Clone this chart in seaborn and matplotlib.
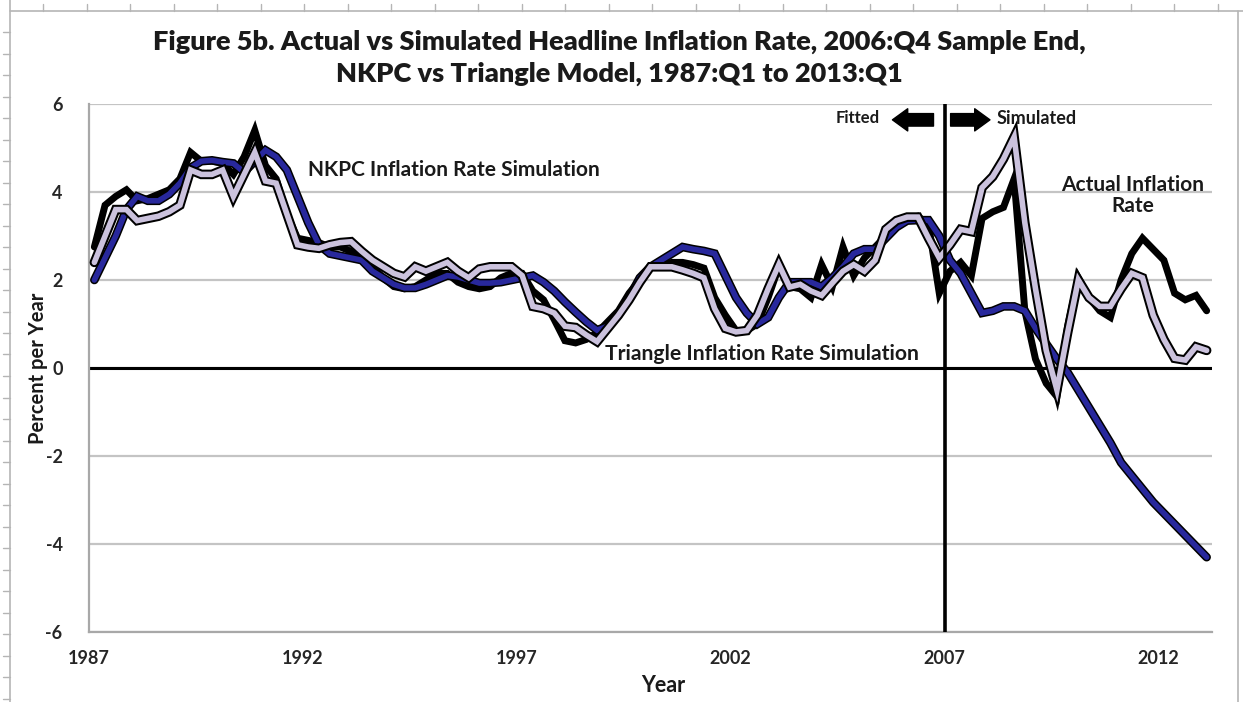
import matplotlib
matplotlib.use("Agg")
import matplotlib.pyplot as plt
import matplotlib.patheffects as pe
from matplotlib.lines import Line2D
import numpy as np
import pandas as pd
import seaborn as sns

# Quarterly headline inflation, 1987:Q1 .. 2013:Q1 (percent per year)
quarters = pd.period_range("1987Q1", "2013Q1", freq="Q")

actual = [
    2.75, 3.7, 3.9, 4.05, 3.8, 3.85, 3.95, 4.05, 4.3, 4.9,
    4.7, 4.7, 4.65, 4.4, 4.8, 5.4, 4.6, 4.3, 3.5, 2.95,
    2.9, 2.85, 2.75, 2.75, 2.65, 2.5, 2.3, 2.05, 1.85, 1.8,
    1.85, 2.0, 2.15, 2.15, 1.95, 1.85, 1.8, 1.85, 2.05, 2.15,
    2.15, 1.75, 1.55, 1.1, 0.62, 0.57, 0.65, 0.8, 1.05, 1.3,
    1.7, 2.0, 2.3, 2.35, 2.4, 2.4, 2.35, 2.27, 1.6, 1.2,
    0.85, 0.85, 1.0, 1.6, 2.3, 1.85, 1.8, 1.6, 2.35, 1.85,
    2.75, 2.1, 2.5, 2.75, 3.0, 3.25, 3.4, 3.45, 3.25, 1.7,
    2.2, 2.4, 2.1, 3.4, 3.55, 3.65, 4.3, 1.3, 0.2, -0.35,
    -0.65, 0.95, 2.05, 1.6, 1.3, 1.15, 2.0, 2.6, 2.95, 2.7,
    2.45, 1.7, 1.55, 1.65, 1.3,
]

nkpc = [
    2.0, 2.5, 3.0, 3.6, 3.9, 3.8, 3.8, 3.95, 4.2, 4.55,
    4.7, 4.72, 4.68, 4.65, 4.45, 4.7, 4.95, 4.8, 4.5, 3.9,
    3.3, 2.8, 2.6, 2.55, 2.5, 2.45, 2.2, 2.05, 1.9, 1.82,
    1.82, 1.9, 2.0, 2.1, 2.07, 2.0, 1.93, 1.93, 1.95, 2.0,
    2.05, 2.1, 1.95, 1.75, 1.5, 1.27, 1.05, 0.86, 0.95, 1.2,
    1.6, 2.05, 2.3, 2.45, 2.6, 2.75, 2.7, 2.66, 2.6, 2.1,
    1.6, 1.25, 1.0, 1.15, 1.6, 1.95, 1.95, 1.95, 1.85, 2.05,
    2.3, 2.6, 2.7, 2.7, 2.95, 3.2, 3.35, 3.36, 3.36, 3.0,
    2.45, 2.15, 1.7, 1.25, 1.3, 1.4, 1.4, 1.3, 0.9, 0.55,
    0.2, -0.1, -0.5, -0.9, -1.3, -1.7, -2.15, -2.45, -2.75, -3.05,
    -3.3, -3.55, -3.8, -4.05, -4.3,
]

triangle = [
    2.4, 3.0, 3.6, 3.6, 3.35, 3.4, 3.45, 3.55, 3.7, 4.5,
    4.4, 4.4, 4.5, 3.9, 4.4, 4.9, 4.25, 4.2, 3.5, 2.8,
    2.75, 2.72, 2.8, 2.85, 2.87, 2.65, 2.45, 2.3, 2.15, 2.07,
    2.3, 2.2, 2.3, 2.4, 2.2, 2.05, 2.25, 2.3, 2.3, 2.3,
    2.1, 1.4, 1.35, 1.25, 0.95, 0.92, 0.75, 0.6, 0.9, 1.2,
    1.55, 1.95, 2.3, 2.3, 2.3, 2.23, 2.15, 2.05, 1.35, 0.9,
    0.82, 0.85, 1.2, 1.8, 2.35, 1.84, 1.9, 1.75, 1.65, 1.93,
    2.2, 2.35, 2.2, 2.45, 3.15, 3.35, 3.43, 3.43, 2.95, 2.5,
    2.8, 3.15, 3.1, 4.1, 4.35, 4.75, 5.25, 3.3, 1.8, 0.4,
    -0.5, 0.8, 2.0, 1.6, 1.4, 1.4, 1.8, 2.15, 2.05, 1.2,
    0.65, 0.22, 0.18, 0.48, 0.4,
]

x_ticks = [1987, 1992, 1997, 2002, 2007, 2012]
y_ticks = [-6, -4, -2, 0, 2, 4, 6]
sample_end = 2007

# each quarter plotted at its midpoint on a continuous year axis
t = np.array([p.year + (p.quarter - 1) / 4 + 0.125 for p in quarters])

df = pd.concat([
    pd.DataFrame({"t": t, "value": actual, "series": "Actual"}),
    pd.DataFrame({"t": t, "value": nkpc, "series": "NKPC"}),
    pd.DataFrame({"t": t, "value": triangle, "series": "Triangle"}),
])

sns.set_style("white")
plt.rcParams["font.family"] = ["Lato", "DejaVu Sans"]
plt.rcParams["font.weight"] = "bold"

W, H = 1243, 702
fig = plt.figure(figsize=(W / 100, H / 100), dpi=100)
ax = fig.add_axes([89 / W, 1 - 632 / H, (1212 - 89) / W, (632 - 104) / H])


def fxy(x, y):
    return x / W, 1 - y / H


palette = {"Actual": "black", "NKPC": "#28289c", "Triangle": "#cbc2dd"}
sns.lineplot(data=df, x="t", y="value", hue="series",
             hue_order=["Actual", "NKPC", "Triangle"], palette=palette,
             estimator=None, sort=False, legend=False, ax=ax, zorder=3)

widths = {"Actual": 5.0, "NKPC": 4.0, "Triangle": 4.0}
outlines = {"NKPC": 6.2, "Triangle": 6.9}
for line, name in zip(ax.lines, ["Actual", "NKPC", "Triangle"]):
    line.set_linewidth(widths[name])
    line.set_solid_joinstyle("miter")
    line.set_solid_capstyle("round")
    if name in outlines:
        line.set_path_effects([pe.Stroke(linewidth=outlines[name], foreground="black"),
                               pe.Normal()])

ax.set_xlim(1987, 2013.25)
ax.set_ylim(-6, 6)
ax.set_xticks(x_ticks)
ax.set_yticks(y_ticks)
ax.set_xticklabels([str(v) for v in x_ticks])
ax.set_yticklabels([str(v) for v in y_ticks])
ax.set_xlabel("")
ax.set_ylabel("")

ax.yaxis.grid(True, color="#c4c4c4", linewidth=1.6)
ax.xaxis.grid(False)
ax.set_axisbelow(True)
for side in ["top", "right"]:
    ax.spines[side].set_visible(False)
for side in ["left", "bottom"]:
    ax.spines[side].set_color("#a8a8a8")
    ax.spines[side].set_linewidth(1.6)

ax.tick_params(axis="x", direction="out", length=5, width=1.2, color="#a8a8a8",
               labelsize=13, pad=8)
ax.tick_params(axis="y", direction="out", length=5, width=1.2, color="#a8a8a8",
               labelsize=13, pad=14)
for lab in ax.get_xticklabels() + ax.get_yticklabels():
    lab.set_fontweight("bold")

ax.axhline(0, color="black", linewidth=2.2, zorder=2)
ax.axvline(sample_end, color="black", linewidth=2.6, zorder=5)

# series labels
ax.text(1992.12, 4.5, "NKPC Inflation Rate Simulation", fontsize=15,
        fontweight="bold", ha="left", va="center", color="#1a1a1a")
ax.text(1999.06, 0.32, "Triangle Inflation Rate Simulation", fontsize=15.2,
        fontweight="bold", ha="left", va="center", color="#1a1a1a")
ax.text(2011.39, 3.92, "Actual Inflation\nRate", fontsize=15, fontweight="bold",
        ha="center", va="center", linespacing=1.05, color="#1a1a1a")

# fitted / simulated markers around the sample end
ax.text(2005.48, 5.68, "Fitted", fontsize=12, fontweight="bold",
        ha="right", va="center", color="#1a1a1a")
ax.text(2008.22, 5.68, "Simulated", fontsize=13, fontweight="bold",
        ha="left", va="center", color="#1a1a1a")
arrow_style = "simple,head_length=1.1,head_width=1.6,tail_width=0.9"
ax.annotate("", xy=(2005.78, 5.64), xytext=(2006.74, 5.64),
            arrowprops=dict(arrowstyle=arrow_style, color="black",
                            shrinkA=0, shrinkB=0, mutation_scale=10))
ax.annotate("", xy=(2008.06, 5.64), xytext=(2007.14, 5.64),
            arrowprops=dict(arrowstyle=arrow_style, color="black",
                            shrinkA=0, shrinkB=0, mutation_scale=10))

# titles and axis labels
fig.text(*fxy(619, 42), "Figure 5b. Actual vs Simulated Headline Inflation Rate, 2006:Q4 Sample End,",
         ha="center", va="center", fontsize=19.5, fontweight="heavy", color="#1a1a1a")
fig.text(*fxy(619, 74), "NKPC vs Triangle Model, 1987:Q1 to 2013:Q1",
         ha="center", va="center", fontsize=19.5, fontweight="heavy", color="#1a1a1a")
fig.text(*fxy(663, 685), "Year", ha="center", va="center", fontsize=15.5,
         fontweight="bold", color="#1a1a1a")
fig.text(*fxy(38, 368), "Percent per Year", ha="center", va="center",
         rotation=90, fontsize=14.5, fontweight="bold", color="#1a1a1a")

# chart-area border with ruler ticks
frame_col = "#b5b5b5"
fig.add_artist(Line2D([10 / W, 10 / W], [0, 1], transform=fig.transFigure,
                      color=frame_col, linewidth=1.2))
fig.add_artist(Line2D([10 / W, 1], [1 - 11 / H, 1 - 11 / H], transform=fig.transFigure,
                      color=frame_col, linewidth=1.2))
fig.add_artist(Line2D([1238 / W, 1238 / W], [0, 1 - 11 / H], transform=fig.transFigure,
                      color=frame_col, linewidth=1.2))
for ypx in np.arange(32, H, 21.5):
    fig.add_artist(Line2D([3 / W, 10 / W], [1 - ypx / H, 1 - ypx / H],
                          transform=fig.transFigure, color=frame_col, linewidth=1.0))
for xpx in np.arange(43, W, 43.5):
    fig.add_artist(Line2D([xpx / W, xpx / W], [1 - 11 / H, 1 - 4 / H],
                          transform=fig.transFigure, color=frame_col, linewidth=1.0))

fig.savefig("out.png", dpi=100)
